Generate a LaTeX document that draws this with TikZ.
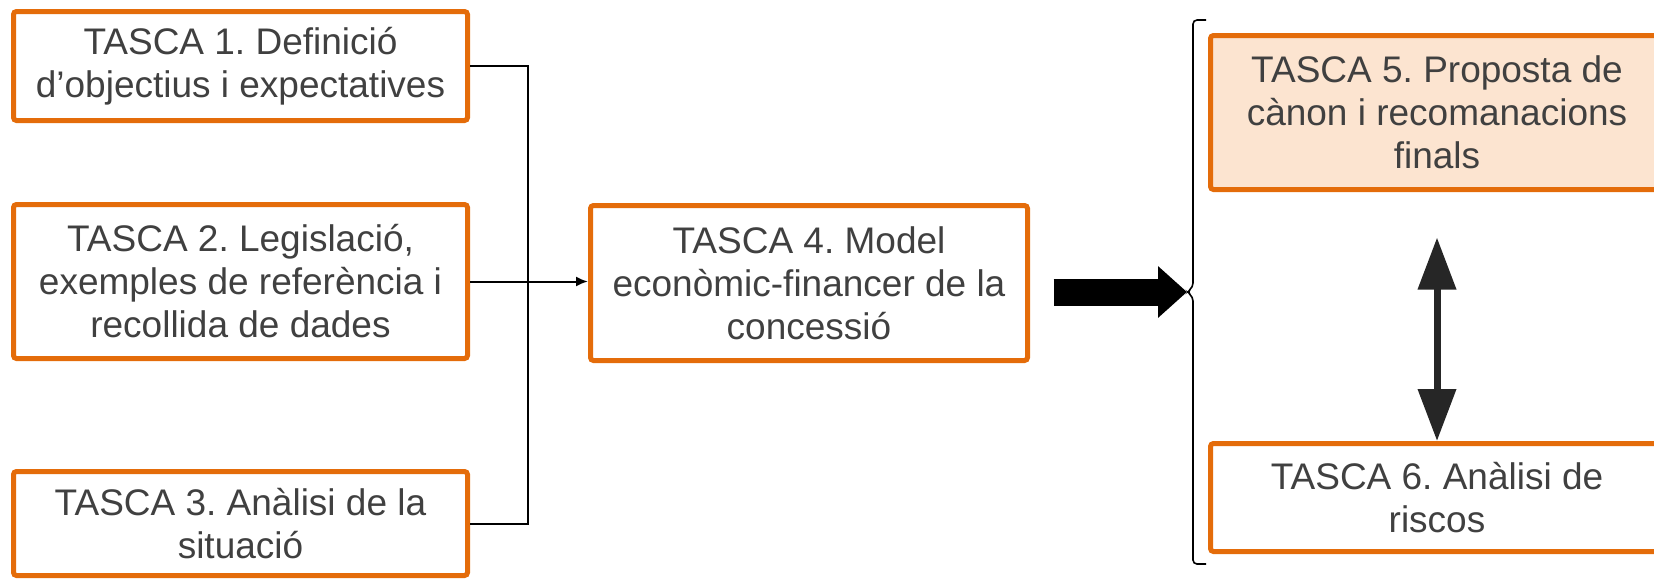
\documentclass[tikz,border=0pt]{standalone}
\usepackage{fontspec}
\setmainfont{Liberation Sans}
\usetikzlibrary{arrows.meta}
\definecolor{taronja}{HTML}{E46C0A}
\definecolor{taronjaclar}{HTML}{FCE4D0}
\definecolor{textgris}{HTML}{404040}
\definecolor{fletxa}{HTML}{262626}
\frenchspacing

\begin{document}
\begin{tikzpicture}[x=0.5pt, y=-0.5pt,
		tasca/.style={draw=taronja, line width=2.5pt, rounded corners=1.5pt, fill=white,
			align=center, text=textgris, inner sep=0pt, font=\fontsize{18.5}{21.5}\selectfont},
		enllac/.style={line width=1pt}]
				\useasboundingbox (0,0) rectangle (1654,580);

				\node[tasca, minimum width=227pt, minimum height=54.5pt] (t1) at (240.5,66) {TASCA 1. Definició\\d’objectius i expectatives};
				\node[tasca, minimum width=227pt, minimum height=77pt] (t2) at (240.5,281.5) {TASCA 2. Legislació,\\exemples de referència i\\recollida de dades};
				\node[tasca, minimum width=227pt, minimum height=52pt] (t3) at (240.5,523.5) {TASCA 3. Anàlisi de la\\situació};

				\node[tasca, minimum width=218.5pt, minimum height=77.5pt] (t4) at (809,283) {TASCA 4. Model\\econòmic-financer de la\\concessió};

				\node[tasca, fill=taronjaclar, minimum width=226.5pt, minimum height=77pt] (t5) at (1437,112.5) {TASCA 5. Proposta de\\cànon i recomanacions\\finals};
				\node[tasca, minimum width=226.5pt, minimum height=54pt] (t6) at (1437,497.5) {TASCA 6. Anàlisi de\\riscos};

				% bus de les tasques 1-3
				\coordinate (bus) at (528,0);
				\draw[enllac] (t1.east) -- (t1.east -| bus) -- (t3.east -| bus) -- (t3.east);
				\draw[enllac, -{Latex[length=6pt, width=5pt]}] (t2.east) -- (t2.east -| t4.west);

				% clau i fletxa gran
				\coordinate (clau) at (1187,292);
				\draw[line width=0.8pt, rounded corners=2pt] (1206,20) -- (1193,20) -- (1193,287)
				-- (clau) -- (1193,297) -- (1193,564) -- (1206,564);
				\draw[line width=13.5pt, -{Triangle[length=14.5pt, width=25pt]}] ([xshift=11.75pt]t4.east |- clau) -- (clau);

				\draw[fletxa, line width=3.5pt, {Triangle[length=26pt, width=18.5pt]}-{Triangle[length=26pt, width=18.5pt]}]
				([yshift=-22.75pt]t5.south) -- (t6.north);

\end{tikzpicture}
\end{document}
